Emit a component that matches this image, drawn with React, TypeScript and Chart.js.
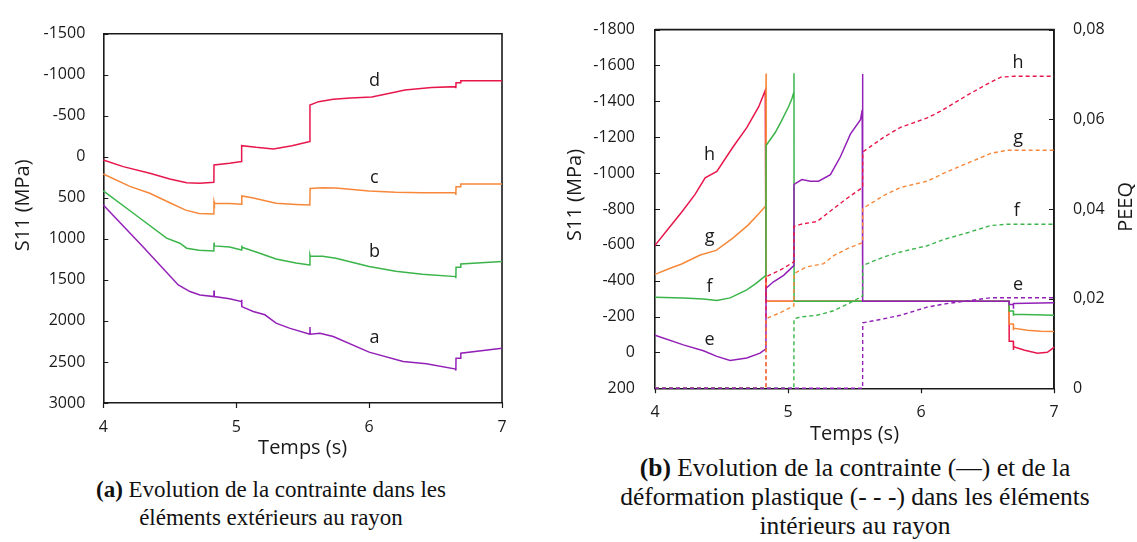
import React, { useEffect, useRef } from 'react';
import { Chart, registerables } from 'chart.js';

Chart.register(...registerables);

const RED = '#E8174B';
const ORANGE = '#F7883A';
const GREEN = '#3BB54A';
const PURPLE = '#9321B8';
const INK = '#1a1a1a';
const FONT = "'Open Sans', sans-serif";

// ---------------- Chart (a): outer elements ----------------
const A_X_TICKS = [4, 5, 6, 7];
const A_Y_TICKS = [-1500, -1000, -500, 0, 500, 1000, 1500, 2000, 2500, 3000];

const aT = [4.0, 4.3, 4.564, 4.652, 4.727, 4.832, 4.833, 4.835, 4.95, 5.04, 5.041, 5.043, 5.128, 5.216, 5.3, 5.4, 5.554, 5.555, 5.557, 5.63, 5.73, 6.0, 6.256, 6.431, 6.652, 6.653, 6.654, 6.688, 6.69, 7.0];
const aS = [586, 1100, 1561, 1642, 1683, 1703, 1630, 1703, 1730, 1764, 1743, 1825, 1885, 1925, 2027, 2088, 2161, 2075, 2161, 2149, 2189, 2380, 2494, 2522, 2587, 2605, 2454, 2454, 2393, 2332];

const bT = [4.0, 4.226, 4.476, 4.576, 4.627, 4.72, 4.832, 4.833, 4.835, 4.95, 5.04, 5.041, 5.043, 5.15, 5.3, 5.45, 5.554, 5.555, 5.557, 5.65, 5.75, 6.0, 6.2, 6.4, 6.652, 6.653, 6.654, 6.688, 6.69, 7.0];
const bS = [416, 688, 992, 1053, 1114, 1140, 1147, 1046, 1086, 1100, 1135, 1082, 1102, 1160, 1245, 1295, 1317, 1195, 1208, 1212, 1235, 1337, 1395, 1430, 1460, 1480, 1345, 1345, 1305, 1277];

const cT = [4.0, 4.2, 4.35, 4.5, 4.62, 4.72, 4.832, 4.833, 4.836, 4.95, 5.04, 5.042, 5.12, 5.3, 5.45, 5.554, 5.556, 5.65, 5.75, 6.0, 6.2, 6.4, 6.652, 6.653, 6.654, 6.688, 6.69, 7.0];
const cS = [209, 360, 444, 560, 650, 690, 696, 546, 566, 568, 578, 477, 500, 566, 580, 586, 385, 378, 380, 416, 432, 438, 437, 465, 364, 364, 332, 330];

const dT = [4.0, 4.15, 4.35, 4.5, 4.627, 4.727, 4.832, 4.833, 4.95, 5.04, 5.041, 5.15, 5.28, 5.42, 5.554, 5.555, 5.62, 5.73, 5.86, 6.02, 6.12, 6.27, 6.47, 6.652, 6.653, 6.654, 6.688, 6.69, 7.0];
const dS = [38, 120, 200, 270, 315, 322, 310, 99, 80, 58, -136, -115, -96, -135, -185, -632, -672, -700, -717, -729, -761, -814, -843, -855, -835, -903, -903, -928, -928];

const A_LABEL_TEXT = ['a', 'b', 'c', 'd'];
const A_LABEL_T = [6.04, 6.04, 6.04, 6.04];
const A_LABEL_S = [2201, 1162, 261, -924];

// ---------------- Chart (b): inner elements ----------------
const B_X_TICKS = [4, 5, 6, 7];
const B_Y_TICKS = [-1800, -1600, -1400, -1200, -1000, -800, -600, -400, -200, 0, 200];
const PEEQ_TICKS = [0, 0.02, 0.04, 0.06, 0.08];
const PEEQ_LABELS = ['0', '0,02', '0,04', '0,06', '0,08'];

// stress (solid)
const eT = [4.0, 4.213, 4.364, 4.465, 4.565, 4.69, 4.79, 4.834, 4.835, 4.891, 4.967, 5.044, 5.045, 5.105, 5.168, 5.23, 5.319, 5.394, 5.469, 5.545, 5.558, 5.561, 5.562, 6.662, 6.663, 6.694, 6.695, 6.696, 7.0];
const eS = [-96, -42, -9, 22, 45, 31, 4, -20, -358, -394, -430, -484, -937, -964, -955, -955, -991, -1091, -1217, -1298, -1353, -1552, -285, -285, -267, -267, -244, -273, -277];

const fT = [4.0, 4.213, 4.364, 4.465, 4.565, 4.69, 4.76, 4.834, 4.835, 4.904, 4.95, 5.005, 5.03, 5.044, 5.045, 5.046, 6.662, 6.663, 6.694, 6.695, 6.696, 6.85, 7.0];
const fS = [-307, -304, -298, -289, -304, -349, -385, -430, -1154, -1226, -1290, -1371, -1416, -1450, -1557, -285, -285, -231, -231, -204, -213, -210, -208];

const gT = [4.0, 4.1, 4.2, 4.34, 4.46, 4.585, 4.7, 4.78, 4.834, 4.835, 4.836, 6.662, 6.663, 6.694, 6.695, 6.696, 6.8, 6.9, 7.0];
const gS = [-435, -465, -493, -543, -569, -637, -710, -773, -818, -1555, -285, -285, -159, -159, -123, -135, -124, -118, -117];

const hT = [4.0, 4.1, 4.2, 4.3, 4.377, 4.465, 4.585, 4.69, 4.78, 4.829, 4.835, 6.662, 6.663, 6.694, 6.695, 6.696, 6.78, 6.876, 6.95, 6.99, 7.0];
const hS = [-597, -690, -782, -880, -973, -1009, -1144, -1253, -1370, -1461, -285, -285, -63, -63, -14, -32, -12, 4, -1, -22, -31];

// equivalent plastic strain (dashed)
const ePT = [4.0, 5.561, 5.562, 5.72, 5.846, 6.047, 6.173, 6.349, 6.525, 6.65, 7.0];
const eP = [0, 0, 0.0146, 0.0155, 0.0163, 0.0181, 0.0188, 0.0195, 0.0202, 0.0202, 0.0202];

const fPT = [4.0, 5.044, 5.045, 5.093, 5.218, 5.344, 5.45, 5.561, 5.562, 5.72, 5.846, 6.047, 6.173, 6.349, 6.525, 6.65, 7.0];
const fP = [0, 0, 0.0155, 0.0159, 0.0163, 0.0173, 0.0188, 0.0206, 0.0274, 0.0293, 0.0304, 0.0318, 0.0332, 0.0347, 0.0363, 0.0366, 0.0366];

const gPT = [4.0, 4.834, 4.835, 4.95, 5.044, 5.045, 5.143, 5.268, 5.344, 5.45, 5.561, 5.562, 5.72, 5.846, 6.047, 6.173, 6.349, 6.525, 6.65, 7.0];
const gP = [0, 0, 0.0155, 0.017, 0.0184, 0.0256, 0.0271, 0.0278, 0.0296, 0.0312, 0.0325, 0.0401, 0.043, 0.0448, 0.0462, 0.048, 0.0502, 0.0524, 0.0531, 0.0531];

const hPT = [4.0, 4.834, 4.835, 4.95, 5.044, 5.045, 5.1, 5.218, 5.344, 5.45, 5.561, 5.562, 5.72, 5.846, 6.047, 6.148, 6.349, 6.5, 6.6, 6.7, 7.0];
const hP = [0, 0, 0.0249, 0.0265, 0.0282, 0.0361, 0.0366, 0.0372, 0.0401, 0.0425, 0.0448, 0.0527, 0.056, 0.0582, 0.0603, 0.0618, 0.0654, 0.0679, 0.0694, 0.0696, 0.0696];

const B_LABEL_TEXT = ['h', 'g', 'f', 'e', 'h', 'g', 'f', 'e'];
const B_LABEL_T = [4.41, 4.41, 4.41, 4.41, 6.73, 6.73, 6.72, 6.73];
const B_LABEL_S = [-1100, -642, -367, -69, -1614, -1199, -792, -376];

// ---------------- helpers ----------------
const pts = (t: number[], v: number[]) => t.map((x, i) => ({ x, y: v[i] }));

const solid = (t: number[], v: number[], color: string) => ({
  data: pts(t, v),
  borderColor: color,
  backgroundColor: color,
  borderWidth: 1.5,
  pointRadius: 0,
  tension: 0,
  fill: false,
  yAxisID: 'y',
  clip: 3,
});

const dashed = (t: number[], v: number[], color: string) => ({
  data: pts(t, v),
  borderColor: color,
  backgroundColor: color,
  borderWidth: 1.4,
  borderDash: [4, 3],
  pointRadius: 0,
  tension: 0,
  fill: false,
  yAxisID: 'y2',
  clip: 3,
});

type Title = { text: string; x: number; dy: number };

function decor(cfg: {
  titles: Title[];
  labelText: string[];
  labelT: number[];
  labelS: number[];
}) {
  return {
    id: 'decor',
    beforeDatasetsDraw(chart: any) {
      const { ctx, chartArea: a, scales } = chart;
      ctx.save();
      ctx.strokeStyle = INK;
      ctx.lineWidth = 1.6;
      ctx.beginPath();
      ctx.moveTo(a.left, a.top);
      ctx.lineTo(a.right, a.top);
      ctx.lineTo(a.right, a.bottom);
      ctx.stroke();
      ctx.lineWidth = 1.2;
      ctx.beginPath();
      for (const t of scales.y.ticks) {
        const py = Math.round(scales.y.getPixelForValue(t.value)) + 0.5;
        ctx.moveTo(a.left, py);
        ctx.lineTo(a.left + 5, py);
      }
      if (scales.y2) {
        for (const t of scales.y2.ticks) {
          const py = Math.round(scales.y2.getPixelForValue(t.value)) + 0.5;
          ctx.moveTo(a.right, py);
          ctx.lineTo(a.right - 5, py);
        }
      }
      for (const t of scales.x.ticks) {
        const px = Math.round(scales.x.getPixelForValue(t.value)) + 0.5;
        ctx.moveTo(px, a.bottom);
        ctx.lineTo(px, a.bottom + 5);
      }
      ctx.stroke();
      ctx.restore();
    },
    afterDraw(chart: any) {
      const { ctx, chartArea: a, scales } = chart;
      ctx.save();
      ctx.fillStyle = INK;
      ctx.textAlign = 'center';
      ctx.textBaseline = 'middle';
      ctx.font = `20px ${FONT}`;
      const cy = (a.top + a.bottom) / 2;
      for (const t of cfg.titles) {
        ctx.save();
        ctx.translate(t.x, cy + t.dy);
        ctx.rotate(-Math.PI / 2);
        ctx.fillText(t.text, 0, 0);
        ctx.restore();
      }
      ctx.font = `18px ${FONT}`;
      cfg.labelText.forEach((txt, i) => {
        ctx.fillText(txt, scales.x.getPixelForValue(cfg.labelT[i]), scales.y.getPixelForValue(cfg.labelS[i]));
      });
      ctx.restore();
    },
  };
}

const tickFont = { family: FONT, size: 16 };
const titleFont = { family: FONT, size: 20 };

function xScale(ticks: number[], height: number, titlePadBottom: number) {
  return {
    type: 'linear',
    min: 4,
    max: 7,
    afterBuildTicks: (s: any) => {
      s.ticks = ticks.map((v) => ({ value: v }));
    },
    afterFit: (s: any) => {
      s.height = height;
    },
    ticks: { font: tickFont, color: INK, padding: 15, callback: (v: any) => String(v) },
    grid: { display: false, drawTicks: false },
    border: { display: true, color: INK, width: 1.6 },
    title: { display: true, text: 'Temps (s)', font: titleFont, color: INK, padding: { top: 0, bottom: titlePadBottom } },
  };
}

function yScale(ticks: number[], min: number, max: number, width: number, pad: number) {
  return {
    type: 'linear',
    reverse: true,
    min,
    max,
    afterBuildTicks: (s: any) => {
      s.ticks = ticks.map((v) => ({ value: v }));
    },
    afterFit: (s: any) => {
      s.width = width;
    },
    ticks: { font: tickFont, color: INK, padding: pad, callback: (v: any) => String(v) },
    grid: { display: false, drawTicks: false },
    border: { display: true, color: INK, width: 1.6 },
  };
}

const baseOptions = {
  animation: false,
  responsive: false,
  maintainAspectRatio: false,
  events: [],
  plugins: { legend: { display: false }, tooltip: { enabled: false } },
};

function configA(): any {
  return {
    type: 'line',
    data: {
      datasets: [
        solid(aT, aS, PURPLE),
        solid(bT, bS, GREEN),
        solid(cT, cS, ORANGE),
        solid(dT, dS, RED),
      ],
    },
    options: {
      ...baseOptions,
      layout: { padding: { left: 0, top: 33.7, right: 28, bottom: 0 } },
      scales: {
        x: xScale(A_X_TICKS, 67, 10),
        y: yScale(A_Y_TICKS, -1500, 3000, 103.3, 18),
      },
    },
    plugins: [
      decor({
        titles: [{ text: 'S11 (MPa)', x: 23, dy: -13 }],
        labelText: A_LABEL_TEXT,
        labelT: A_LABEL_T,
        labelS: A_LABEL_S,
      }),
    ],
  };
}

function configB(): any {
  return {
    type: 'line',
    data: {
      datasets: [
        dashed(ePT, eP, PURPLE),
        dashed(fPT, fP, GREEN),
        dashed(gPT, gP, ORANGE),
        dashed(hPT, hP, RED),
        solid(eT, eS, PURPLE),
        solid(fT, fS, GREEN),
        solid(gT, gS, ORANGE),
        solid(hT, hS, RED),
      ],
    },
    options: {
      ...baseOptions,
      layout: { padding: { left: 0, top: 19.3, right: 0, bottom: 0 } },
      scales: {
        x: xScale(B_X_TICKS, 61.7, 4),
        y: yScale(B_Y_TICKS, -1800, 200, 95, 20),
        y2: {
          type: 'linear',
          position: 'right',
          min: 0,
          max: 0.08,
          afterBuildTicks: (s: any) => {
            s.ticks = PEEQ_TICKS.map((v) => ({ value: v }));
          },
          afterFit: (s: any) => {
            s.width = 83;
          },
          ticks: { font: tickFont, color: INK, padding: 19, callback: (_v: any, i: number) => PEEQ_LABELS[i] },
          grid: { display: false, drawTicks: false },
          border: { display: true, color: INK, width: 1.6 },
        },
      },
    },
    plugins: [
      decor({
        titles: [
          { text: 'S11 (MPa)', x: 15, dy: -14 },
          { text: 'PEEQ', x: 566, dy: -2 },
        ],
        labelText: B_LABEL_TEXT,
        labelT: B_LABEL_T,
        labelS: B_LABEL_S,
      }),
    ],
  };
}

const captionStyle: React.CSSProperties = {
  position: 'absolute',
  textAlign: 'center',
  fontFamily: "'Liberation Serif', serif",
  color: '#111',
  whiteSpace: 'nowrap',
};

export default function App() {
  const refA = useRef<HTMLCanvasElement>(null);
  const refB = useRef<HTMLCanvasElement>(null);

  useEffect(() => {
    const ca = new Chart(refA.current as HTMLCanvasElement, configA());
    const cb = new Chart(refB.current as HTMLCanvasElement, configB());
    return () => {
      ca.destroy();
      cb.destroy();
    };
  }, []);

  return (
    <div style={{ position: 'fixed', left: 0, top: 0, width: 1137, height: 542, background: '#fff', overflow: 'hidden' }}>
      <canvas ref={refA} width={530} height={470} style={{ position: 'absolute', left: 0, top: 0, width: 530, height: 470 }} />
      <canvas ref={refB} width={577} height={450} style={{ position: 'absolute', left: 560, top: 0, width: 577, height: 450 }} />
      <div style={{ ...captionStyle, left: 0, width: 542, top: 476, fontSize: 23, lineHeight: '28px' }}>
        <b>(a)</b> Evolution de la contrainte dans les
        <br />
        éléments extérieurs au rayon
      </div>
      <div style={{ ...captionStyle, left: 555, width: 600, top: 452.5, fontSize: 25.5, lineHeight: '29px' }}>
        <b>(b)</b> Evolution de la contrainte (—) et de la
        <br />
        déformation plastique (- - -) dans les éléments
        <br />
        intérieurs au rayon
      </div>
    </div>
  );
}
